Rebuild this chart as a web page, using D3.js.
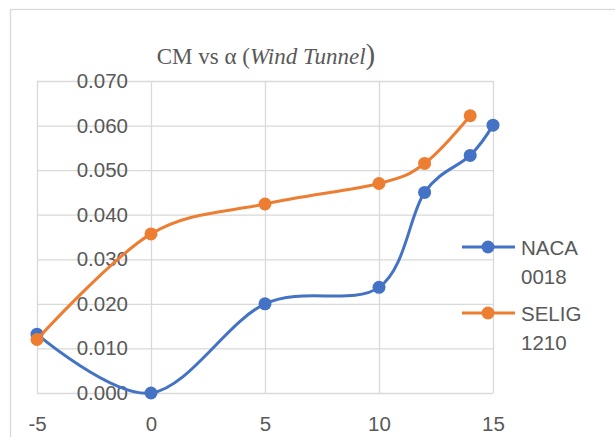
<!DOCTYPE html>
<html>
<head>
<meta charset="utf-8">
<script src="https://cdn.jsdelivr.net/npm/d3@7"></script>
<style>
  body { margin: 0; background: #fff; }
  svg { display: block; }
</style>
</head>
<body>
<svg></svg>
<script>
// angle of attack values and CM readings
const alphaNaca = [-5, 0, 5, 10, 12, 14, 15];
const cmNaca = [0.0132, 0.0000, 0.0200, 0.0237, 0.0450, 0.0533, 0.0601];
const alphaSelig = [-5, 0, 5, 10, 12, 14];
const cmSelig = [0.0120, 0.0357, 0.0424, 0.0470, 0.0515, 0.0622];
const seriesNames = [["NACA", "0018"], ["SELIG", "1210"]];
const xTicks = [-5, 0, 5, 10, 15];
const yTicks = [0, 0.01, 0.02, 0.03, 0.04, 0.05, 0.06, 0.07];

var w = 615;
var h = 437;
const margin = { top: 81, bottom: 44, left: 37, right: 122 };
const innerWidth = w - margin.left - margin.right;
const innerHeight = h - margin.top - margin.bottom;
const colors = ["#4472C4", "#ED7D31"];
const textColor = "#595959";
const gridColor = "#D9D9D9";
const font = "'Liberation Sans', Arial, sans-serif";

let svg = d3.select("svg")
  .attr("width", w)
  .attr("height", h);

// chart frame
svg.append("rect")
  .attr("x", 10.5).attr("y", 9.5)
  .attr("width", 700).attr("height", 500)
  .attr("fill", "none")
  .attr("stroke", gridColor)
  .attr("stroke-width", 1.3);

const g = svg.append("g")
  .attr("transform", `translate(${margin.left}, ${margin.top})`);

let xScale = d3.scaleLinear().domain([-5, 15]).range([0, innerWidth]);
let yScale = d3.scaleLinear().domain([0, 0.07]).range([innerHeight, 0]);

// horizontal gridlines
g.append("g")
  .call(d3.axisLeft(yScale).tickValues(yTicks).tickSize(-innerWidth).tickFormat(""))
  .call(a => a.select(".domain").remove())
  .selectAll("line").attr("stroke", gridColor).attr("stroke-width", 1.3);

// vertical gridlines + x labels (plain hyphen like excel)
let xAxisG = g.append("g")
  .attr("transform", `translate(0,${innerHeight})`)
  .call(d3.axisBottom(xScale).tickValues(xTicks).tickSize(-innerHeight).tickPadding(23)
    .tickFormat(d => String(d)));
xAxisG.select(".domain").remove();
xAxisG.selectAll("line").attr("stroke", gridColor).attr("stroke-width", 1.3);
xAxisG.selectAll("text")
  .attr("fill", textColor)
  .style("font-family", font)
  .style("font-size", "20.5px");

// y labels sit next to the axis crossing at alpha = 0
let yAxisG = g.append("g")
  .attr("transform", `translate(${xScale(0)},0)`)
  .call(d3.axisLeft(yScale).tickValues(yTicks).tickSize(0).tickPadding(23).tickFormat(d3.format(".3f")));
yAxisG.select(".domain").remove();
yAxisG.selectAll("text")
  .attr("fill", textColor)
  .style("font-family", font)
  .style("font-size", "20.5px");

function drawSeries(xs, ys, color) {
  let pts = xs.map((x, i) => [x, ys[i]]);
  let line = d3.line()
    .x(d => xScale(d[0]))
    .y(d => yScale(d[1]))
    .curve(d3.curveCardinal.tension(0));
  g.append("path")
    .datum(pts)
    .attr("d", line)
    .attr("fill", "none")
    .attr("stroke", color)
    .attr("stroke-width", 3)
    .attr("stroke-linecap", "round");
  g.selectAll(null)
    .data(pts)
    .enter()
    .append("circle")
    .attr("cx", d => xScale(d[0]))
    .attr("cy", d => yScale(d[1]))
    .attr("r", 6.5)
    .attr("fill", color);
}

drawSeries(alphaNaca, cmNaca, colors[0]);
drawSeries(alphaSelig, cmSelig, colors[1]);

// title
let title = svg.append("text")
  .attr("x", 266)
  .attr("y", 64)
  .attr("text-anchor", "middle")
  .attr("fill", textColor)
  .style("font-family", "'Liberation Serif', 'Times New Roman', serif")
  .style("font-size", "23px");
title.append("tspan").text("CM vs α (");
title.append("tspan").style("font-style", "italic").text("Wind Tunnel");
title.append("tspan").style("font-size", "29px").text(")");

// legend
const legendY = [247, 313];
seriesNames.forEach(function(name, i) {
  let lg = svg.append("g").attr("transform", `translate(0,${legendY[i]})`);
  lg.append("line")
    .attr("x1", 462).attr("x2", 515)
    .attr("stroke", colors[i]).attr("stroke-width", 3);
  lg.append("circle").attr("cx", 488).attr("r", 6.5).attr("fill", colors[i]);
  lg.selectAll("text")
    .data(name)
    .enter()
    .append("text")
    .attr("x", 521)
    .attr("y", (d, j) => 8 + j * 29)
    .attr("fill", textColor)
    .style("font-family", font)
    .style("font-size", "20.5px")
    .text(d => d);
});
</script>
</body>
</html>
